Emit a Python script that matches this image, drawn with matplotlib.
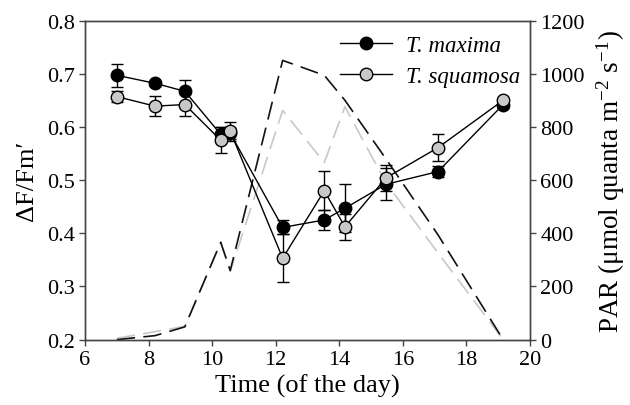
import numpy as np
import matplotlib.pyplot as plt
from matplotlib.lines import Line2D

plt.rcParams['font.family'] = ['Liberation Serif', 'DejaVu Serif']
plt.rcParams['mathtext.fontset'] = 'stix'

# time of the day (h)
time = [7.0, 8.2, 9.14, 10.27, 10.57, 12.22, 13.53, 14.18, 15.47, 17.11, 19.16]

# dF/Fm' and standard errors
maxima = [0.697, 0.682, 0.667, 0.586, 0.588, 0.411, 0.425, 0.447, 0.492, 0.516, 0.642]
maxima_err = [0.022, 0.005, 0.022, 0.013, 0.010, 0.013, 0.018, 0.045, 0.030, 0.010, 0.006]
squamosa = [0.657, 0.639, 0.642, 0.575, 0.592, 0.353, 0.480, 0.412, 0.504, 0.561, 0.650]
squamosa_err = [0.011, 0.019, 0.022, 0.025, 0.018, 0.045, 0.037, 0.025, 0.025, 0.025, 0.005]

# PAR (umol quanta m-2 s-1)
par_maxima = [0, 15, 48, 366, 260, 1050, 994, 900, 680, 394, 0]
par_squamosa = [5, 30, 50, 366, 256, 862, 666, 876, 590, 326, 0]

fig = plt.figure(figsize=(6.3, 4.06), dpi=100)
ax = fig.add_axes([0.135, 0.161, 0.706, 0.786])
ax2 = ax.twinx()
ax.set_zorder(ax2.get_zorder() + 1)
ax.patch.set_visible(False)

dash = (0, (11, 5))
ax2.plot(time, par_squamosa, color='#c8c8c8', lw=1.2, linestyle=dash)
ax2.plot(time, par_maxima, color='#111111', lw=1.2, linestyle=dash)
ax2.set_ylim(0, 1200)
ax2.set_yticks(np.arange(0, 1201, 200))
ax2.set_ylabel(r'PAR ($\mathregular{\mu}$mol quanta m$^{\mathregular{-2}}$ s$^{\mathregular{-1}}$)',
               fontsize=19.5, labelpad=7)

ax.errorbar(time, maxima, yerr=maxima_err, fmt='-o', color='black', mfc='black',
            mec='black', ms=9, lw=1, capsize=4, elinewidth=1, capthick=1)
ax.errorbar(time, squamosa, yerr=squamosa_err, fmt='-o', color='black', mfc='#c8c8c8',
            mec='black', ms=9, lw=1, capsize=4, elinewidth=1, capthick=1)

ax.set_xlim(6, 20)
ax.set_ylim(0.2, 0.8)
ax.set_xticks(np.arange(6, 21, 2))
ax.set_yticks(np.arange(0.2, 0.81, 0.1))
ax.set_xlabel('Time (of the day)', fontsize=19, labelpad=3)
ax.set_ylabel('ΔF/Fm′', fontsize=19, labelpad=6)

for a in (ax, ax2):
    a.tick_params(direction='out', length=4, width=1, labelsize=16, color='#444444')
    for s in a.spines.values():
        s.set_color('#444444')
        s.set_linewidth(1)

handles = [Line2D([], [], color='black', lw=1, marker='o', ms=9, mfc='black', mec='black'),
           Line2D([], [], color='black', lw=1, marker='o', ms=9, mfc='#c8c8c8', mec='black')]
leg = ax.legend(handles, ['T. maxima', 'T. squamosa'], loc='upper right',
                bbox_to_anchor=(1.025, 1.02), frameon=False, fontsize=16.5,
                handlelength=2.3, labelspacing=0.45, handletextpad=0.6)
for t in leg.get_texts():
    t.set_fontstyle('italic')

fig.savefig('out.png', dpi=100)
